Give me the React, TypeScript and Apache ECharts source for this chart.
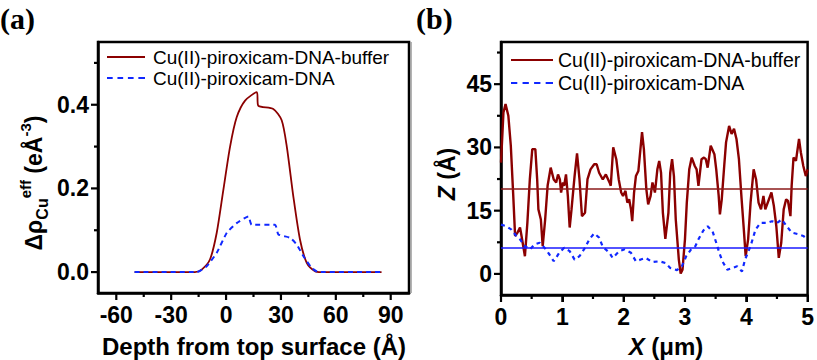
import React, { useEffect, useRef } from "react";
import * as echarts from "echarts";

// Panel (a): Cu effective electron density vs depth
const depthBuffer = [-50, -17, -13.3, -8.8, -5.1, -1.5, 2.2, 5.8, 10.4, 16.8, 17.6, 25.8, 30.4, 33.2, 36.8, 40.4, 44.1, 48.6, 52, 85];
const rhoBuffer = [0, 0, 0.006, 0.03, 0.094, 0.196, 0.3, 0.37, 0.41, 0.43, 0.398, 0.39, 0.363, 0.3, 0.18, 0.078, 0.022, 0.002, 0, 0];
const depthDNA = [-50, -16, -10.6, -5.1, 0.4, 5.8, 12.2, 14.0, 26.8, 28.6, 35, 38.6, 42.3, 46.8, 50.4, 85];
const rhoDNA = [0, 0, 0.014, 0.046, 0.094, 0.117, 0.133, 0.113, 0.113, 0.09, 0.082, 0.066, 0.038, 0.01, 0, 0];
const leftXTicks = [-60, -30, 0, 30, 60, 90];
const leftXMinor = [-45, -15, 15, 45, 75];
const leftYTicks = [0, 0.2, 0.4];
const leftYMinor = [0.1, 0.3, 0.5];

// Panel (b): height profiles
const profXBuffer = [0, 0.04, 0.074, 0.12, 0.16, 0.2, 0.23, 0.27, 0.31, 0.33, 0.39, 0.43, 0.47, 0.51, 0.56, 0.59, 0.61, 0.65, 0.68, 0.72, 0.76, 0.81, 0.86, 0.9, 0.93, 0.96, 0.98, 1.01, 1.03, 1.06, 1.09, 1.12, 1.15, 1.2, 1.24, 1.28, 1.32, 1.37, 1.41, 1.46, 1.52, 1.56, 1.6, 1.66, 1.71, 1.77, 1.79, 1.83, 1.88, 1.92, 1.96, 1.99, 2.03, 2.06, 2.09, 2.12, 2.14, 2.17, 2.2, 2.24, 2.3, 2.33, 2.37, 2.4, 2.44, 2.47, 2.51, 2.55, 2.58, 2.61, 2.64, 2.68, 2.73, 2.76, 2.79, 2.82, 2.85, 2.9, 2.93, 2.96, 3.0, 3.03, 3.07, 3.11, 3.16, 3.19, 3.22, 3.27, 3.31, 3.34, 3.37, 3.42, 3.48, 3.51, 3.55, 3.57, 3.6, 3.64, 3.67, 3.72, 3.76, 3.8, 3.84, 3.88, 3.92, 3.96, 3.99, 4.03, 4.07, 4.12, 4.16, 4.2, 4.24, 4.28, 4.31, 4.37, 4.41, 4.45, 4.49, 4.53, 4.57, 4.61, 4.65, 4.68, 4.72, 4.74, 4.77, 4.81, 4.86, 4.89, 4.93, 4.97, 5.0];
const profZBuffer = [26.4, 38.3, 40.3, 37.5, 30.4, 18.5, 9.0, 9.8, 11.0, 9.4, 4.2, 12.1, 22.4, 29.6, 29.6, 22.4, 15.3, 12.9, 6.6, 12.9, 20.9, 25.2, 22.4, 21.7, 23.6, 22.4, 19.3, 21.7, 20.9, 23.6, 18.5, 11.0, 15.3, 23.2, 28.6, 22.4, 13.7, 14.5, 22.4, 24.8, 26.0, 26.0, 24.0, 22.4, 23.6, 21.7, 20.9, 30.0, 27.2, 22.4, 19.3, 18.5, 19.7, 16.9, 17.7, 15.3, 12.5, 19.3, 23.2, 24.4, 33.6, 29.6, 20.1, 16.5, 18.5, 21.7, 19.3, 24.8, 26.8, 24.0, 14.5, 8.3, 14.5, 24.0, 27.2, 23.2, 12.9, 3.4, 0.1, 1.0, 8.2, 16.9, 24.8, 27.6, 25.6, 24.8, 20.9, 27.2, 27.6, 27.2, 25.2, 30.4, 28.4, 24.8, 18.5, 14.1, 17.7, 25.6, 31.2, 35.1, 33.2, 34.4, 32.0, 27.2, 18.5, 10.5, 4.2, 8.2, 16.9, 24.8, 22.4, 16.9, 15.3, 18.5, 15.3, 17.7, 19.3, 16.1, 11.3, 3.8, 7.4, 15.3, 17.7, 17.3, 13.7, 20.9, 27.6, 26.8, 32.0, 28.8, 25.6, 23.2, 24.8];
const profXDNA = [0, 0.09, 0.17, 0.25, 0.31, 0.39, 0.47, 0.55, 0.63, 0.71, 0.79, 0.86, 0.95, 1.03, 1.12, 1.2, 1.28, 1.37, 1.44, 1.52, 1.6, 1.66, 1.77, 1.82, 1.93, 2.01, 2.12, 2.2, 2.28, 2.36, 2.47, 2.58, 2.68, 2.76, 2.87, 2.95, 3.02, 3.1, 3.17, 3.22, 3.3, 3.37, 3.45, 3.51, 3.56, 3.61, 3.69, 3.77, 3.85, 3.93, 3.98, 4.07, 4.15, 4.23, 4.34, 4.42, 4.5, 4.58, 4.66, 4.74, 4.85, 4.93, 5.0];
const profZDNA = [11.7, 11.3, 10.5, 9.0, 8.2, 6.6, 5.8, 7.0, 7.4, 6.2, 4.6, 3.0, 5.0, 6.2, 5.4, 3.4, 4.2, 6.2, 8.2, 9.6, 8.6, 6.4, 5.0, 3.8, 5.4, 5.8, 5.0, 3.0, 3.4, 3.8, 2.8, 3.0, 2.6, 1.4, 0.9, 1.8, 4.2, 5.8, 6.6, 8.2, 10.3, 11.3, 10.1, 7.4, 5.0, 3.0, 1.0, 1.4, 1.8, 0.6, 3.4, 6.6, 10.5, 12.1, 12.1, 12.5, 12.1, 12.9, 11.3, 9.8, 9.4, 9.0, 8.2];
const meanBuffer = 20.3;
const meanDNA = 6.3;
const rightXTicks = [0, 1, 2, 3, 4, 5];
const rightXMinor = [0.5, 1.5, 2.5, 3.5, 4.5];
const rightYTicks = [0, 15, 30, 45];
const rightYMinor = [7.5, 22.5, 37.5, 52.5];

const nameBuffer = "Cu(II)-piroxicam-DNA-buffer";
const nameDNA = "Cu(II)-piroxicam-DNA";

const SANS = "'Liberation Sans', Arial, sans-serif";
const SERIF = "'Liberation Serif', 'Times New Roman', serif";
const RED = "#8B0000";
const BLUE = "#1028ff";

const zip = (xs: number[], ys: number[]) => xs.map((x, i) => [x, ys[i]]);
const near = (v: number, list: number[]) => list.some((t) => Math.abs(t - v) < 1e-6);

const tickLabel = { color: "#000", fontSize: 23, fontWeight: "bold" as const, fontFamily: SANS };
const mkAxisLine = () => ({ show: true, onZero: false, lineStyle: { color: "#000", width: 2.5 } });

const legendLine = "path://M0,0h40v2h-40z";
const legendDash = "path://M0,0h6v2h-6z M11,0h6v2h-6z M22,0h6v2h-6z M33,0h7v2h-7z";

const baseGraphic: any[] = [
  { type: "text", left: 0, top: 3, style: { text: "(a)", font: `bold 30px ${SERIF}`, fill: "#000" } },
  { type: "text", left: 416, top: 3, style: { text: "(b)", font: `bold 30px ${SERIF}`, fill: "#000" } },
  { type: "line", shape: { x1: 411, y1: 42, x2: 411, y2: 293 }, style: { stroke: "#9a9a9a", lineWidth: 1.5 } },
  {
    type: "text", x: 254, y: 346,
    style: { text: "Depth from top surface (Å)", font: `bold 24px ${SANS}`, fill: "#000", align: "center", verticalAlign: "middle" },
  },
  {
    type: "text", x: 666, y: 346,
    style: {
      text: "{i|X} (μm)", font: `bold 24px ${SANS}`, fill: "#000", align: "center", verticalAlign: "middle",
      rich: { i: { fontStyle: "italic", fontWeight: "bold", fontSize: 24, fontFamily: SANS, fill: "#000" } },
    },
  },
  {
    type: "text", x: 447, y: 174, rotation: Math.PI / 2,
    style: {
      text: "{i|Z} (Å)", font: `bold 23px ${SANS}`, fill: "#000", align: "center", verticalAlign: "middle",
      rich: { i: { fontStyle: "italic", fontWeight: "bold", fontSize: 23, fontFamily: SANS, fill: "#000" } },
    },
  },
  {
    type: "text", x: 34, y: 183, rotation: Math.PI / 2,
    style: {
      text: "{b|Δρ}{sub|Cu}{sup|eff}{b| (eÅ}{sup|-3}{b|)}",
      fill: "#000", align: "center", verticalAlign: "middle",
      rich: {
        b: { fontSize: 23, fontWeight: "bold", fontFamily: SANS, lineHeight: 32, verticalAlign: "middle", fill: "#000" },
        sub: { fontSize: 16, fontWeight: "bold", fontFamily: SANS, lineHeight: 32, verticalAlign: "bottom", fill: "#000" },
        sup: { fontSize: 15, fontWeight: "bold", fontFamily: SANS, lineHeight: 32, verticalAlign: "top", fill: "#000" },
      },
    },
  },
];

export default function App() {
  const ref = useRef<HTMLDivElement>(null);
  useEffect(() => {
    if (!ref.current) return;
    document.body.style.margin = "0";
    const chart = echarts.init(ref.current, undefined, { renderer: "svg" });
    const option: any = {
      animation: false,
      grid: [
        { left: 98, top: 42, width: 311, height: 251, show: true, borderColor: "#000", borderWidth: 2.5 },
        { left: 501, top: 42, width: 309, height: 253, show: true, borderColor: "#000", borderWidth: 2.5 },
      ],
      xAxis: [
        {
          type: "value", gridIndex: 0, min: -70, max: 100, interval: 10, axisLine: mkAxisLine(), splitLine: { show: false },
          axisTick: { show: false },
          axisLabel: { ...tickLabel, margin: 10, formatter: (v: number) => (near(v, leftXTicks) ? String(Math.round(v)) : "") },
        },
        {
          type: "value", gridIndex: 1, min: 0, max: 5, interval: 1, axisLine: mkAxisLine(), splitLine: { show: false },
          axisTick: { show: true, length: 7, lineStyle: { color: "#000", width: 2 } },
          axisLabel: { ...tickLabel, margin: 10 },
        },
      ],
      yAxis: [
        {
          type: "value", gridIndex: 0, min: -0.05, max: 0.55, interval: 0.05, axisLine: mkAxisLine(), splitLine: { show: false },
          axisTick: { show: false },
          axisLabel: { ...tickLabel, margin: 9, formatter: (v: number) => (near(v, leftYTicks) ? v.toFixed(1) : "") },
        },
        {
          type: "value", gridIndex: 1, min: -5, max: 55, interval: 5, axisLine: mkAxisLine(), splitLine: { show: false },
          axisTick: { show: false },
          axisLabel: { ...tickLabel, margin: 9, formatter: (v: number) => (near(v, rightYTicks) ? String(Math.round(v)) : "") },
        },
      ],
      legend: [
        {
          data: [
            { name: nameBuffer, icon: legendLine, itemStyle: { color: RED } },
            { name: nameDNA, icon: legendDash, itemStyle: { color: BLUE } },
          ],
          orient: "vertical", left: 107, top: 47, padding: 0, itemGap: 1,
          itemWidth: 38, itemHeight: 14,
          textStyle: { fontSize: 19, color: "#000", fontFamily: SANS, lineHeight: 20, padding: [0, 0, 0, 3] },
        },
        {
          data: [
            { name: nameBuffer, icon: legendLine, itemStyle: { color: RED } },
            { name: nameDNA, icon: legendDash, itemStyle: { color: BLUE } },
          ],
          orient: "vertical", left: 511, top: 50, padding: 0, itemGap: 3,
          itemWidth: 42, itemHeight: 14,
          textStyle: { fontSize: 19.5, color: "#000", fontFamily: SANS, lineHeight: 20, padding: [0, 0, 0, 0] },
        },
      ],
      series: [
        {
          name: nameBuffer, type: "line", xAxisIndex: 0, yAxisIndex: 0,
          data: zip(depthBuffer, rhoBuffer), symbol: "none", showSymbol: false, smooth: 0.25,
          lineStyle: { color: RED, width: 1.8 }, itemStyle: { color: RED },
        },
        {
          name: nameDNA, type: "line", xAxisIndex: 0, yAxisIndex: 0,
          data: zip(depthDNA, rhoDNA), symbol: "none", showSymbol: false, smooth: 0.15,
          lineStyle: { color: BLUE, width: 2, type: [5, 4] }, itemStyle: { color: BLUE },
        },
        {
          name: nameBuffer, type: "line", xAxisIndex: 1, yAxisIndex: 1,
          data: zip(profXBuffer, profZBuffer), symbol: "none", showSymbol: false,
          lineStyle: { color: RED, width: 2.4 }, itemStyle: { color: RED },
          markLine: {
            silent: true, symbol: "none", label: { show: false },
            lineStyle: { color: "#8B1A1A", width: 1.6, type: "solid" },
            data: [{ yAxis: meanBuffer }],
          },
        },
        {
          name: nameDNA, type: "line", xAxisIndex: 1, yAxisIndex: 1,
          data: zip(profXDNA, profZDNA), symbol: "none", showSymbol: false,
          lineStyle: { color: BLUE, width: 2.2, type: [4, 4] }, itemStyle: { color: BLUE },
          markLine: {
            silent: true, symbol: "none", label: { show: false },
            lineStyle: { color: "#1a1aff", width: 1.6, type: "solid" },
            data: [{ yAxis: meanDNA }],
          },
        },
      ],
      graphic: baseGraphic,
    };
    try {
      chart.setOption(option);
    } catch (e) {
      // keep going so the tick marks are still added
    }

    // outward tick marks positioned through the axes' own scales
    const ticks: any[] = [];
    const addTicks = (gridIndex: number, dir: "x" | "y", values: number[], other: number, len: number) => {
      values.forEach((v) => {
        let p: any = null;
        try {
          p = chart.convertToPixel({ gridIndex } as any, dir === "x" ? [v, other] : [other, v]);
        } catch (e) {
          p = null;
        }
        if (!p || !isFinite(p[0]) || !isFinite(p[1])) return;
        const shape =
          dir === "x"
            ? { x1: p[0], y1: p[1], x2: p[0], y2: p[1] + len }
            : { x1: p[0] - len, y1: p[1], x2: p[0], y2: p[1] };
        ticks.push({ type: "line", shape, style: { stroke: "#000", lineWidth: 2.2 } });
      });
    };
    addTicks(0, "x", leftXTicks, -0.05, 7);
    addTicks(0, "x", leftXMinor, -0.05, 4);
    addTicks(0, "y", leftYTicks, -70, 7);
    addTicks(0, "y", leftYMinor, -70, 4);
    addTicks(1, "x", rightXTicks, -5, 7);
    addTicks(1, "x", rightXMinor, -5, 4);
    addTicks(1, "y", rightYTicks, 0, 7);
    addTicks(1, "y", rightYMinor, 0, 4);
    try {
      chart.setOption({ graphic: [...baseGraphic, ...ticks] });
    } catch (e) {
      // ignore
    }

    return () => chart.dispose();
  }, []);
  return (
    <div
      ref={ref}
      style={{ position: "absolute", left: 0, top: 0, width: 817, height: 360, background: "#fff" }}
    />
  );
}
